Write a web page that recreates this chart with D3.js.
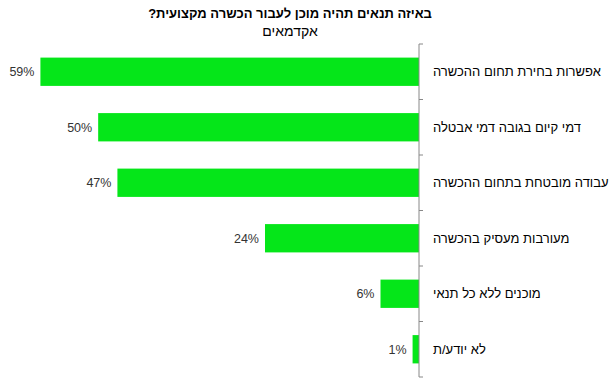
<!DOCTYPE html>
<html>
<head>
<meta charset="utf-8">
<script src="https://cdn.jsdelivr.net/npm/d3@7"></script>
<style>
  body { margin: 0; background: #fff; }
  text { font-family: Arial, "Liberation Sans", sans-serif; }
</style>
</head>
<body>
<div id="chart"></div>
<script>
(function() {
    "use strict";
    var categories = [
        "אפשרות בחירת תחום ההכשרה",
        "דמי קיום בגובה דמי אבטלה",
        "עבודה מובטחת בתחום ההכשרה",
        "מעורבות מעסיק בהכשרה",
        "מוכנים ללא כל תנאי",
        "לא יודע/ת"
    ];
    var values = [59, 50, 47, 24, 6, 1];
    var title = "באיזה תנאים תהיה מוכן לעבור הכשרה מקצועית?";
    var subtitle = "אקדמאים";

    var width = 611, height = 388;
    var svg = d3.select("#chart").append("svg")
        .attr("width", width).attr("height", height);

    var x = d3.scaleLinear().domain([0, 60]).range([419, 34]);
    var y = d3.scaleBand().domain(categories).range([44, 377])
        .paddingInner(0.49).paddingOuter(0.245);

    svg.append("text")
        .attr("x", 290).attr("y", 18)
        .attr("direction", "rtl")
        .attr("text-anchor", "middle")
        .attr("font-size", 13).attr("font-weight", "bold")
        .attr("fill", "#000")
        .text(title);
    svg.append("text")
        .attr("x", 290).attr("y", 36)
        .attr("direction", "rtl")
        .attr("text-anchor", "middle")
        .attr("font-size", 14)
        .attr("fill", "#000")
        .text(subtitle);

    // bars
    svg.selectAll("rect.bar").data(values).enter().append("rect")
        .attr("class", "bar")
        .attr("x", function(d) { return x(d); })
        .attr("y", function(d, i) { return y(categories[i]); })
        .attr("width", function(d) { return x(0) - x(d); })
        .attr("height", y.bandwidth())
        .attr("fill", "#05e619");

    // value labels
    svg.selectAll("text.val").data(values).enter().append("text")
        .attr("class", "val")
        .attr("x", function(d) { return x(d) - 6; })
        .attr("y", function(d, i) { return y(categories[i]) + y.bandwidth() / 2; })
        .attr("dy", "0.35em")
        .attr("text-anchor", "end")
        .attr("font-size", 12.5)
        .attr("fill", "#333")
        .text(function(d) { return d + "%"; });

    // axis on the right side of the bars
    var axis = svg.append("g");
    axis.append("line")
        .attr("x1", x(0)).attr("x2", x(0))
        .attr("y1", 44).attr("y2", 377)
        .attr("stroke", "#888").attr("stroke-width", 1);
    var bounds = d3.range(categories.length + 1).map(function(i) {
        return 44 + i * (377 - 44) / categories.length;
    });
    axis.selectAll("line.tick").data(bounds).enter().append("line")
        .attr("class", "tick")
        .attr("x1", x(0)).attr("x2", x(0) + 4)
        .attr("y1", function(d) { return d; }).attr("y2", function(d) { return d; })
        .attr("stroke", "#888").attr("stroke-width", 1);

    axis.selectAll("text.cat").data(categories).enter().append("text")
        .attr("class", "cat")
        .attr("x", 433)
        .attr("y", function(d) { return y(d) + y.bandwidth() / 2; })
        .attr("dy", "0.35em")
        .attr("direction", "rtl")
        .attr("text-anchor", "end")
        .attr("font-size", 13)
        .attr("fill", "#000")
        .text(function(d) { return d; });
}());
</script>
</body>
</html>
